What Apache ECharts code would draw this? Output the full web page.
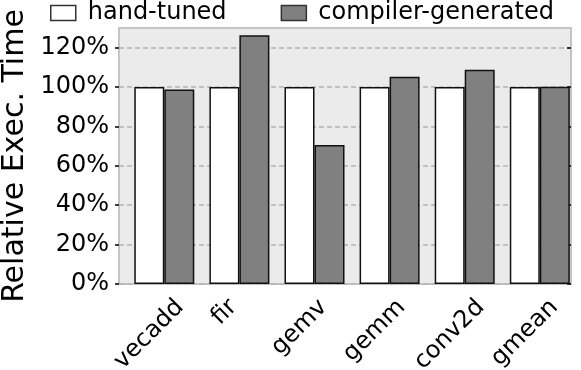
<!DOCTYPE html>
<html>
<head>
<meta charset="utf-8">
<script src="https://cdn.jsdelivr.net/npm/echarts@6/dist/echarts.min.js"></script>
<style>
  html, body { margin: 0; padding: 0; background: #fff; }
  #chart { width: 581px; height: 370px; }
</style>
</head>
<body>
<div id="chart"></div>
<script>
const categories = ['vecadd', 'fir', 'gemv', 'gemm', 'conv2d', 'gmean']
const handTuned = [100, 100, 100, 100, 100, 100]
const compilerGenerated = [98.8, 126.3, 70.6, 105.2, 108.8, 100.2]
const yTicks = [0, 20, 40, 60, 80, 100, 120]

const FONT = '"DejaVu Sans", sans-serif'
const fontSize = 24
const barW = 30

// matplotlib centres each rotated tick label on its tick (the white bar),
// with the top of its box just under the axis; echarts anchors labels at
// the band centre, so each one gets moved there with padding.
// zrender: padding shifts the text along its own axes, vertical part only
// works with align top/bottom, so use bottom + a large margin.
const ctx = document.createElement('canvas').getContext('2d')
ctx.font = fontSize + 'px "DejaVu Sans"'
const labelPad = 11
const labelMargin = 55
const catData = categories.map(name => {
  const L = ctx.measureText(name).width
  const dx = -barW / 2
  const dy = labelPad + 0.3536 * (L + fontSize) - labelMargin
  const a = (dx - dy) / Math.SQRT2
  const b = (dx + dy) / Math.SQRT2
  return {
    value: name,
    textStyle: {
      align: 'center',
      verticalAlign: 'bottom',
      padding: [0, Math.max(-2 * a, 0), Math.max(-b - fontSize / 2, 0), Math.max(2 * a, 0)]
    }
  }
})

const chart = echarts.init(document.getElementById('chart'), null, { renderer: 'canvas' })

const option = {
  animation: false,
  backgroundColor: '#fff',
  textStyle: { fontFamily: FONT },
  legend: {
    left: 50,
    top: 1,
    padding: 0,
    itemWidth: 25,
    itemHeight: 15,
    itemGap: 54,
    icon: 'rect',
    textStyle: { fontFamily: FONT, fontSize: 24, color: '#000', padding: [0, 0, 0, 7] },
    data: [
      { name: 'hand-tuned', itemStyle: { color: '#fff', borderColor: '#333', borderWidth: 1.5 } },
      { name: 'compiler-generated', itemStyle: { color: '#808080', borderColor: '#333', borderWidth: 1.5 } }
    ]
  },
  grid: [
    // frame / background
    {
      left: 119, right: 10, top: 28, bottom: 86,
      show: true, backgroundColor: '#ebebeb', borderColor: '#c4c4c4', borderWidth: 2,
      outerBoundsMode: 'none', containLabel: false
    },
    // bars (shifted so the bar pairs sit where matplotlib put them)
    {
      left: 126.75, right: 3.65, top: 28, bottom: 86,
      outerBoundsMode: 'none', containLabel: false
    }
  ],
  xAxis: [
    { gridIndex: 0, type: 'value', show: false, min: 0, max: 1 },
    {
      gridIndex: 1,
      type: 'category',
      data: catData,
      axisLine: { show: false },
      axisTick: { show: false },
      axisLabel: {
        interval: 0,
        rotate: 45,
        margin: labelMargin,
        fontFamily: FONT,
        fontSize: fontSize,
        color: '#000'
      }
    }
  ],
  yAxis: [
    {
      gridIndex: 0,
      type: 'value',
      min: 0,
      max: 130,
      interval: 20,
      name: 'Relative Exec. Time',
      nameLocation: 'middle',
      nameRotate: 90,
      nameGap: 89,
      nameMoveOverlap: false,
      nameTextStyle: { fontFamily: FONT, fontSize: 30, color: '#000' },
      axisLine: { show: false },
      axisTick: { show: true, length: 4, lineStyle: { color: '#000', width: 1.5 }, customValues: yTicks },
      axisLabel: {
        margin: 10,
        fontFamily: FONT,
        fontSize: fontSize,
        color: '#000',
        customValues: yTicks,
        formatter: '{value}%'
      },
      splitLine: { show: true, lineStyle: { color: '#b4b4b4', width: 1.5, type: [5, 3] } }
    },
    {
      // inner half of the ticks
      gridIndex: 0,
      type: 'value',
      min: 0,
      max: 130,
      interval: 20,
      axisLine: { show: false },
      axisLabel: { show: false },
      splitLine: { show: false },
      axisTick: { show: true, inside: true, length: 4, lineStyle: { color: '#000', width: 1.5 }, customValues: yTicks }
    },
    { gridIndex: 1, type: 'value', min: 0, max: 130, show: false }
  ],
  series: [
    {
      name: 'hand-tuned',
      type: 'bar',
      xAxisIndex: 1,
      yAxisIndex: 2,
      data: handTuned,
      barWidth: barW,
      barGap: '0%',
      itemStyle: { color: '#fff', borderColor: '#111', borderWidth: 1.5 }
    },
    {
      name: 'compiler-generated',
      type: 'bar',
      xAxisIndex: 1,
      yAxisIndex: 2,
      data: compilerGenerated,
      barWidth: barW,
      barGap: '0%',
      itemStyle: { color: '#808080', borderColor: '#111', borderWidth: 1.5 }
    }
  ]
}

chart.setOption(option)
</script>
</body>
</html>
